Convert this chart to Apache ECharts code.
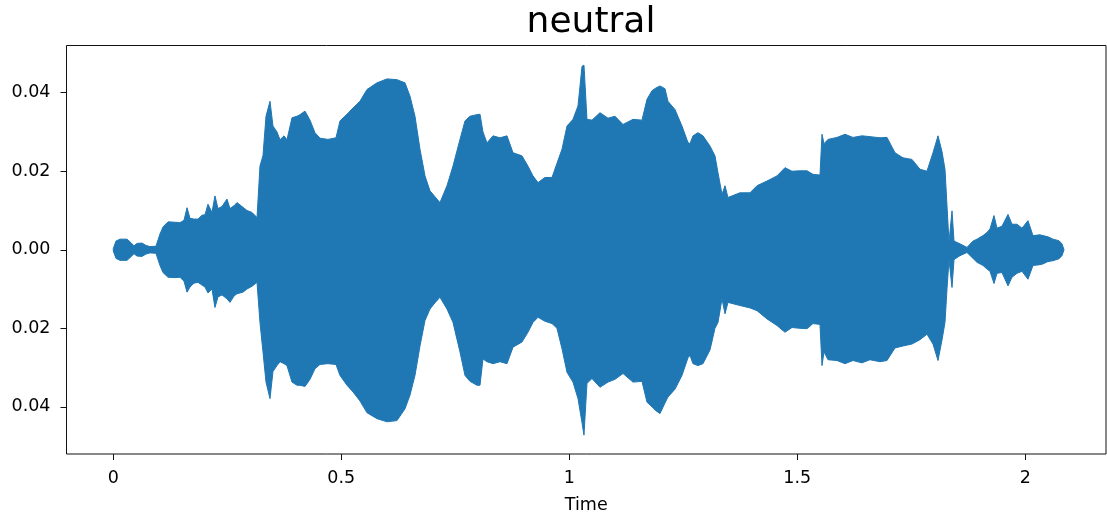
<!DOCTYPE html>
<html>
<head>
<meta charset="utf-8">
<script src="https://cdn.jsdelivr.net/npm/echarts@6/dist/echarts.min.js"></script>
<style>
html,body{margin:0;padding:0;background:#fff;}
#chart{width:1107px;height:519px;}
</style>
</head>
<body>
<div id="chart"></div>
<script>
// Time (s) of each envelope sample
const times = [0.000,0.0059,0.0147,0.0300,0.0388,0.0454,0.0520,0.0629,0.0717,0.0805,0.0936,0.1024,0.1090,0.1200,0.1353,0.1463,0.1551,0.1617,0.1682,0.1770,0.1858,0.1946,0.2011,0.2077,0.2164,0.2230,0.2296,0.2384,0.2493,0.2559,0.2647,0.2713,0.2844,0.2932,0.3042,0.3152,0.3217,0.3283,0.3349,0.3437,0.3502,0.3590,0.3656,0.3744,0.3809,0.3919,0.4029,0.4094,0.4204,0.4314,0.4423,0.4533,0.4708,0.4884,0.4972,0.5125,0.5257,0.5410,0.5564,0.5783,0.6002,0.6221,0.6397,0.6507,0.6616,0.6726,0.6836,0.6945,0.7055,0.7164,0.7318,0.7450,0.7603,0.7713,0.7822,0.7976,0.8042,0.8107,0.8195,0.8327,0.8480,0.8634,0.8766,0.8963,0.9094,0.9204,0.9314,0.9467,0.9621,0.9730,0.9840,0.9950,1.0081,1.0191,1.0279,1.0322,1.0388,1.0498,1.0673,1.0849,1.1002,1.1178,1.1397,1.1594,1.1704,1.1814,1.1901,1.1989,1.2099,1.2164,1.2318,1.2471,1.2603,1.2647,1.2713,1.2822,1.2932,1.3086,1.3195,1.3261,1.3349,1.3415,1.3480,1.3743,1.3963,1.4116,1.4336,1.4555,1.4730,1.4884,1.5059,1.5213,1.5344,1.5498,1.5542,1.5586,1.5673,1.5871,1.6046,1.6221,1.6419,1.6594,1.6814,1.6967,1.7143,1.7318,1.7515,1.7691,1.7844,1.7976,1.8086,1.8173,1.8239,1.8283,1.8327,1.8393,1.8437,1.8568,1.8722,1.8853,1.8941,1.9073,1.9160,1.9226,1.9314,1.9379,1.9489,1.9621,1.9708,1.9818,1.9928,2.0059,2.0169,2.0322,2.0388,2.0498,2.0607,2.0739,2.0805,2.0849];

// Upper envelope of the waveform (amplitude)
const upper = [0.0003,0.0022,0.0027,0.0027,0.0018,0.0010,0.0016,0.0017,0.0011,0.0008,0.0009,0.0040,0.0058,0.0071,0.0070,0.0069,0.0075,0.0107,0.0080,0.0078,0.0078,0.0088,0.0089,0.0116,0.0095,0.0137,0.0105,0.0110,0.0129,0.0105,0.0112,0.0120,0.0108,0.0100,0.0095,0.0082,0.0213,0.0240,0.0340,0.0378,0.0315,0.0300,0.0280,0.0290,0.0280,0.0336,0.0340,0.0344,0.0353,0.0330,0.0298,0.0284,0.0281,0.0285,0.0328,0.0345,0.0361,0.0378,0.0408,0.0425,0.0435,0.0433,0.0425,0.0391,0.0340,0.0256,0.0188,0.0150,0.0135,0.0120,0.0163,0.0213,0.0281,0.0328,0.0340,0.0344,0.0345,0.0300,0.0272,0.0290,0.0285,0.0290,0.0247,0.0239,0.0213,0.0188,0.0171,0.0184,0.0184,0.0220,0.0256,0.0315,0.0332,0.0366,0.0467,0.0470,0.0332,0.0330,0.0349,0.0335,0.0340,0.0319,0.0332,0.0330,0.0383,0.0405,0.0412,0.0417,0.0410,0.0378,0.0357,0.0315,0.0273,0.0270,0.0290,0.0298,0.0290,0.0264,0.0239,0.0196,0.0141,0.0163,0.0133,0.0145,0.0145,0.0163,0.0175,0.0188,0.0209,0.0200,0.0201,0.0201,0.0192,0.0190,0.0294,0.0270,0.0281,0.0286,0.0294,0.0286,0.0290,0.0288,0.0285,0.0286,0.0247,0.0234,0.0230,0.0205,0.0200,0.0247,0.0290,0.0250,0.0205,0.0112,0.0019,0.0099,0.0022,0.0015,0.0006,0.0022,0.0027,0.0036,0.0044,0.0053,0.0087,0.0055,0.0060,0.0090,0.0065,0.0065,0.0055,0.0074,0.0036,0.0038,0.0036,0.0033,0.0027,0.0023,0.0015,0.0000];

// Lower envelope of the waveform (amplitude)
const lower = [-0.0003,-0.0022,-0.0027,-0.0027,-0.0018,-0.0010,-0.0016,-0.0017,-0.0011,-0.0008,-0.0009,-0.0040,-0.0058,-0.0070,-0.0071,-0.0070,-0.0080,-0.0108,-0.0095,-0.0085,-0.0083,-0.0090,-0.0095,-0.0110,-0.0100,-0.0147,-0.0120,-0.0115,-0.0125,-0.0134,-0.0118,-0.0112,-0.0108,-0.0100,-0.0093,-0.0083,-0.0185,-0.0260,-0.0337,-0.0379,-0.0310,-0.0295,-0.0285,-0.0290,-0.0295,-0.0337,-0.0345,-0.0345,-0.0348,-0.0330,-0.0303,-0.0292,-0.0290,-0.0292,-0.0320,-0.0345,-0.0362,-0.0385,-0.0415,-0.0430,-0.0438,-0.0435,-0.0405,-0.0370,-0.0320,-0.0245,-0.0180,-0.0151,-0.0135,-0.0121,-0.0151,-0.0185,-0.0260,-0.0320,-0.0335,-0.0345,-0.0345,-0.0278,-0.0285,-0.0290,-0.0285,-0.0290,-0.0248,-0.0235,-0.0210,-0.0185,-0.0172,-0.0182,-0.0188,-0.0200,-0.0252,-0.0312,-0.0337,-0.0379,-0.0440,-0.0472,-0.0340,-0.0328,-0.0350,-0.0337,-0.0330,-0.0315,-0.0337,-0.0335,-0.0388,-0.0400,-0.0410,-0.0417,-0.0390,-0.0375,-0.0355,-0.0320,-0.0275,-0.0269,-0.0290,-0.0295,-0.0290,-0.0255,-0.0200,-0.0185,-0.0125,-0.0163,-0.0134,-0.0142,-0.0148,-0.0155,-0.0176,-0.0193,-0.0210,-0.0198,-0.0200,-0.0201,-0.0188,-0.0190,-0.0295,-0.0260,-0.0280,-0.0282,-0.0290,-0.0282,-0.0288,-0.0280,-0.0285,-0.0282,-0.0250,-0.0245,-0.0240,-0.0229,-0.0215,-0.0240,-0.0282,-0.0230,-0.0185,-0.0100,-0.0025,-0.0096,-0.0025,-0.0015,-0.0007,-0.0022,-0.0032,-0.0040,-0.0049,-0.0055,-0.0086,-0.0060,-0.0058,-0.0092,-0.0070,-0.0060,-0.0055,-0.0075,-0.0040,-0.0038,-0.0036,-0.0030,-0.0028,-0.0023,-0.0015,0.0000];

const xTicks = [0, 0.5, 1, 1.5, 2];
const yTicks = [-0.04, -0.02, 0, 0.02, 0.04];
const titleText = 'neutral';
const xName = 'Time';

const color = '#1f77b4';
const font = 'DejaVu Sans';

const waveData = times.map((t, i) => [t, upper[i], lower[i]]);

const chart = echarts.init(document.getElementById('chart'), null, {renderer: 'canvas'});

chart.setOption({
  animation: false,
  backgroundColor: '#fff',
  title: {
    text: titleText,
    left: 586,
    textAlign: 'center',
    top: 0,
    textStyle: {fontFamily: font, fontSize: 36, fontWeight: 'normal', color: '#000'}
  },
  grid: {
    left: 66.5, top: 45.5, right: 1, bottom: 64,
    show: true, borderColor: '#111', borderWidth: 1, backgroundColor: 'transparent',
    containLabel: false
  },
  xAxis: {
    type: 'value',
    min: -0.1026, max: 2.177,
    name: xName,
    nameLocation: 'middle',
    nameGap: 42,
    nameTextStyle: {fontFamily: font, fontSize: 17.5, color: '#000'},
    axisLine: {show: false, onZero: false},
    splitLine: {show: false},
    axisTick: {show: true, customValues: xTicks, length: 6, inside: false, lineStyle: {color: '#111', width: 1}},
    axisLabel: {customValues: xTicks, margin: 15, fontFamily: font, fontSize: 17.5, color: '#000',
      formatter: v => String(v)}
  },
  yAxis: {
    type: 'value',
    min: -0.052, max: 0.052,
    axisLine: {show: false, onZero: false},
    splitLine: {show: false},
    axisTick: {show: true, customValues: yTicks, length: 6, lineStyle: {color: '#111', width: 1}},
    axisLabel: {customValues: yTicks, margin: 16, fontFamily: font, fontSize: 17.5, color: '#000',
      formatter: v => Math.abs(v).toFixed(2)}
  },
  series: [{
    type: 'custom',
    data: waveData,
    encode: {x: 0, y: [1, 2]},
    silent: true,
    clip: true,
    renderItem: function (params, api) {
      if (params.dataIndex !== 0) return null;
      const pts = [];
      for (let i = 0; i < waveData.length; i++) pts.push(api.coord([waveData[i][0], waveData[i][1]]));
      for (let i = waveData.length - 1; i >= 0; i--) pts.push(api.coord([waveData[i][0], waveData[i][2]]));
      return {
        type: 'polygon',
        shape: {points: pts},
        style: {fill: color, stroke: color, lineWidth: 1, lineJoin: 'miter'}
      };
    }
  }]
});
</script>
</body>
</html>
